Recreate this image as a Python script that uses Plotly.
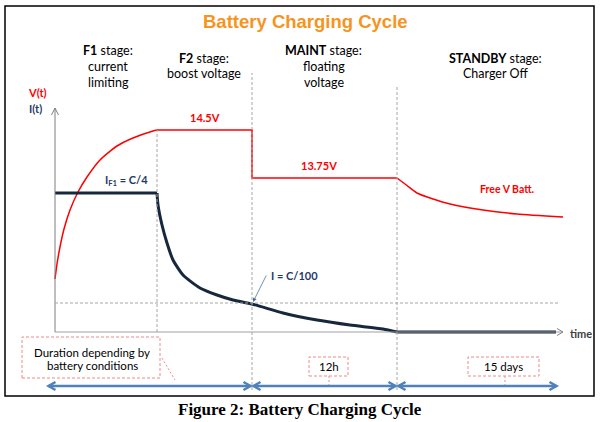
import plotly.graph_objects as go

# ---------------- data (diagram units: time along x, level along y) ----------------
stage_t = [0, 102, 197, 342]          # stage boundaries: F1 | F2 | MAINT | STANDBY
t_end = 501                           # end of drawn current line

V_BOOST = 202                         # 14.5 V level
V_FLOAT = 154                         # 13.75 V level
I_F1 = 139                            # C/4 current level
I_C100 = 29                           # C/100 current level

# battery voltage V(t)
t_v_f1 = [0, 2, 5, 9, 15, 23, 32, 45, 62, 78, 98, 102]
v_f1 = [53, 68, 85, 103, 122, 140, 155, 172, 186, 194, 201, 202]
t_v_sb = [342, 352, 362, 378, 395, 428, 462, 508]
v_sb = [154, 146.5, 139, 133, 128, 122, 118, 115]

# charging current I(t)
t_i_dec = [102, 103, 107, 112, 118, 128, 145, 162, 178, 197, 228, 262, 295, 328, 342]
i_dec = [139, 127, 107, 89, 72, 57, 44, 37, 32, 28, 19, 12, 7, 3, 0]

stage_titles = [["<b>F1</b> stage:", "current", "limiting"],
                ["<b>F2</b> stage:", "boost voltage"],
                ["<b>MAINT</b> stage:", "floating", "voltage"],
                ["<b>STANDBY</b> stage:", "Charger Off"]]

RED = "#FF0000"
NAVY = "#17283D"
NAVY_TXT = "#1F3A68"
BLUE = "#4F81BD"
GRAY = "#A6A6A6"
PINK = "#F08A8A"
FONT = "Lato"

fig = go.Figure()

# V(t) traces
fig.add_trace(go.Scatter(x=t_v_f1, y=v_f1, mode="lines",
                         line=dict(color=RED, width=1.5, shape="spline", smoothing=0.6)))
fig.add_trace(go.Scatter(x=[stage_t[1], stage_t[2], stage_t[2], stage_t[3]],
                         y=[V_BOOST, V_BOOST, V_FLOAT, V_FLOAT], mode="lines",
                         line=dict(color=RED, width=1.5)))
fig.add_trace(go.Scatter(x=t_v_sb, y=v_sb, mode="lines",
                         line=dict(color=RED, width=1.5, shape="spline", smoothing=0.6)))

# I(t) traces
fig.add_trace(go.Scatter(x=[stage_t[0], stage_t[1]], y=[I_F1, I_F1], mode="lines",
                         line=dict(color=NAVY, width=3)))
fig.add_trace(go.Scatter(x=t_i_dec, y=i_dec, mode="lines",
                         line=dict(color=NAVY, width=3, shape="spline", smoothing=0.6)))
fig.add_trace(go.Scatter(x=[stage_t[3], t_end], y=[0, 0], mode="lines",
                         line=dict(color=NAVY, width=3)))

shapes = []
dash = "3px,2px"
# frame
shapes.append(dict(type="rect", x0=-50, x1=539, y0=-64, y1=326,
                   line=dict(color="black", width=1.5)))
# axes
shapes.append(dict(type="line", x0=0, x1=0, y0=0, y1=224, line=dict(color="#7F7F7F", width=1)))
shapes.append(dict(type="path", path="M -3.5,217 L 0,224 L 3.5,217", line=dict(color="#7F7F7F", width=1)))
shapes.append(dict(type="line", x0=0, x1=508, y0=0, y1=0, line=dict(color="#9F9F9F", width=1)))
shapes.append(dict(type="path", path="M 502,3.5 L 508,0 L 502,-3.5", line=dict(color="#7F7F7F", width=1)))
# dashed guides
shapes.append(dict(type="line", x0=stage_t[1], x1=stage_t[1], y0=0, y1=V_BOOST,
                   line=dict(color=GRAY, width=1, dash=dash)))
shapes.append(dict(type="line", x0=stage_t[2], x1=stage_t[2], y0=-58, y1=259,
                   line=dict(color=GRAY, width=1, dash=dash)))
shapes.append(dict(type="line", x0=stage_t[3], x1=stage_t[3], y0=-58, y1=245,
                   line=dict(color=GRAY, width=1, dash=dash)))
shapes.append(dict(type="line", x0=0, x1=505, y0=I_C100, y1=I_C100,
                   line=dict(color=GRAY, width=1, dash=dash)))

# duration arrows
dur_edges = [-8, stage_t[2], stage_t[3], 503]
YA = -54
for a, b in zip(dur_edges[:-1], dur_edges[1:]):
    a2, b2 = a + 1.5, b - 1.5
    shapes.append(dict(type="line", x0=a2, x1=b2, y0=YA, y1=YA, line=dict(color=BLUE, width=2.5)))
    shapes.append(dict(type="path", path=f"M {a2+7},{YA+4} L {a2},{YA} L {a2+7},{YA-4}",
                       line=dict(color=BLUE, width=2.5)))
    shapes.append(dict(type="path", path=f"M {b2-7},{YA+4} L {b2},{YA} L {b2-7},{YA-4}",
                       line=dict(color=BLUE, width=2.5)))

# duration boxes
boxes = [(-33, 105, -5, -46), (254, 293, -25, -44), (413, 484, -25, -44)]
for (x0, x1, y0, y1) in boxes:
    shapes.append(dict(type="rect", x0=x0, x1=x1, y0=y1, y1=y0,
                       line=dict(color=PINK, width=1, dash=dash)))
shapes.append(dict(type="line", x0=107, x1=120, y0=-26, y1=-48, line=dict(color=PINK, width=1, dash="2px,2px")))
shapes.append(dict(type="line", x0=274, x1=274, y0=-44, y1=-53, line=dict(color=PINK, width=1, dash="2px,2px")))
shapes.append(dict(type="line", x0=450, x1=450, y0=-44, y1=-53, line=dict(color=PINK, width=1, dash="2px,2px")))

ann = []
def txt(x, y, s, size=12, color="black", family=FONT, **kw):
    ann.append(dict(x=x, y=y, text=s, showarrow=False, xanchor="center", yanchor="middle",
                    font=dict(size=size, color=color, family=family), **kw))

# title and caption
txt(250, 311, "<b>Battery Charging Cycle</b>", size=18.5, color="#F7941D", family="Liberation Sans")
txt(245, -77, "<b>Figure 2: Battery Charging Cycle</b>", size=17, family="Liberation Serif")

# stage titles
stage_pos = [(53, [282, 266, 250]), (149, [274, 259]), (268.5, [282, 266, 250]), (440, [274, 259])]
for lines, (cx, ys) in zip(stage_titles, stage_pos):
    for s, yy in zip(lines, ys):
        txt(cx, yy, s, size=12.5)

# axis labels
txt(-18, 240, "<b>V(t)</b>", size=11, color=RED)
txt(-19.5, 224, "<b>I(t)</b>", size=11, color=NAVY_TXT)
txt(526, -1, "<b>time</b>", size=11, color="#404040")

# level labels
txt(150, 215, "<b>14.5V</b>", size=11, color=RED)
txt(263.5, 167, "<b>13.75V</b>", size=11, color=RED)
txt(452, 143, "<b>Free V Batt.</b>", size=10.5, color=RED)
txt(71, 152, "<b>I<sub>F1</sub> = C/4</b>", size=11, color=NAVY_TXT)
txt(239.5, 57, "<b>I = C/100</b>", size=11, color=NAVY_TXT)
ann.append(dict(x=stage_t[2] + 1, y=I_C100 + 1, ax=212, ay=58, axref="x", ayref="y",
                text="", showarrow=True, arrowhead=2, arrowsize=1, arrowwidth=0.8,
                arrowcolor="#4F6FA0"))

# duration texts
txt(37, -20, "Duration depending by", size=11.5)
txt(37, -33, "battery conditions", size=11.5)
txt(273.5, -34, "12h", size=11.5)
txt(448.5, -34, "15 days", size=11.5)

fig.update_layout(
    width=601, height=422, margin=dict(l=0, r=0, t=0, b=0),
    paper_bgcolor="white", plot_bgcolor="white", showlegend=False,
    xaxis=dict(range=[-55, 546], visible=False, fixedrange=True),
    yaxis=dict(range=[-90, 332], visible=False, fixedrange=True),
    shapes=shapes, annotations=ann,
)

# remove the page's default 8px body margin so the figure fills the window
fig.write_html("out.html", config={"displayModeBar": False},
               post_script="document.body.style.margin='0px';")
